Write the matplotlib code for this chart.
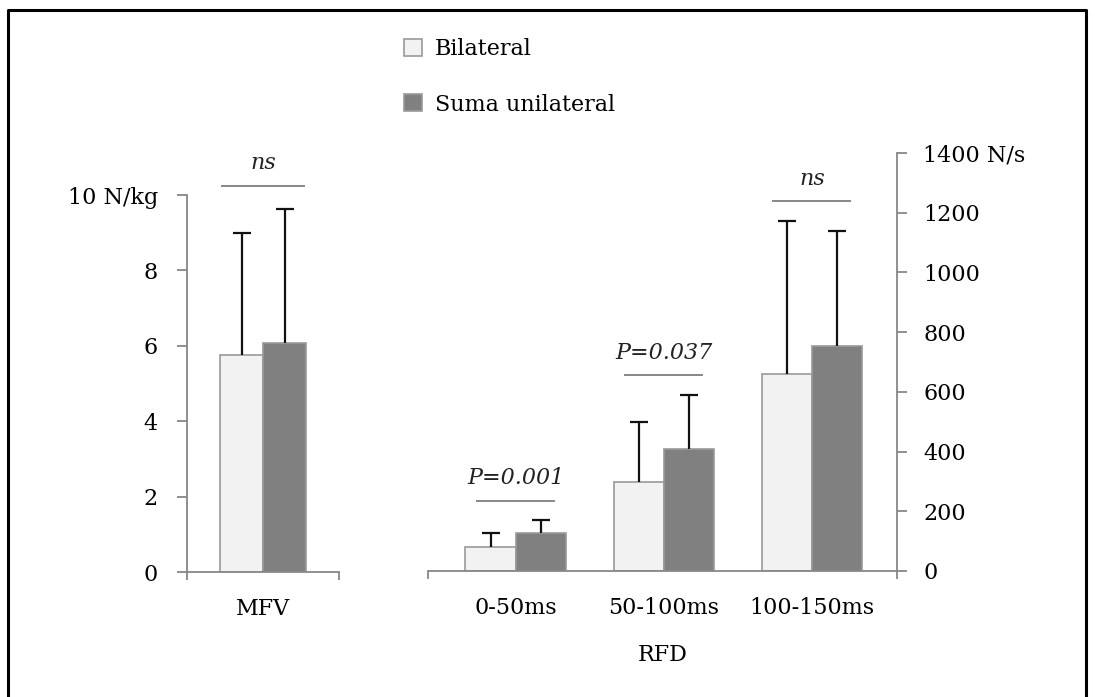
import numpy as np
import matplotlib
matplotlib.use("Agg")
import matplotlib.pyplot as plt
from matplotlib.lines import Line2D

plt.rcParams['font.family'] = ['DejaVu Serif']
plt.rcParams['font.size'] = 16

# data
series = ['Bilateral', 'Suma unilateral']
colors = ['#f2f2f2', '#808080']
edge = '#9a9a9a'
axis_col = '#878787'

mfv_cat = ['MFV']
mfv_mean = [[5.76], [6.07]]
mfv_sd = [[3.24], [3.56]]
mfv_sig = ['ns']

rfd_cat = ['0-50ms', '50-100ms', '100-150ms']
rfd_mean = [[80, 298, 660], [127, 409, 753]]
rfd_sd = [[47, 201, 513], [43, 180, 387]]
rfd_sig = ['P=0.001', 'P=0.037', 'ns']

left_ticks = [0, 2, 4, 6, 8, 10]
left_labels = ['0', '2', '4', '6', '8', '10 N/kg']
right_ticks = [0, 200, 400, 600, 800, 1000, 1200, 1400]
right_labels = ['0', '200', '400', '600', '800', '1000', '1200', '1400 N/s']

fig = plt.figure(figsize=(10.95, 6.97), dpi=100)
axL = fig.add_axes([0.1708, 0.1793, 0.1388, 0.5409])
axR = fig.add_axes([0.3913, 0.1808, 0.4279, 0.5997])


def draw_bars(ax, cats, means, sds, width):
    x = np.arange(len(cats))
    bars = []
    for i in range(2):
        xi = x + (i - 0.5) * width
        m = np.array(means[i])
        top = m + np.array(sds[i])
        b = ax.bar(xi, m, width, color=colors[i], edgecolor=edge,
                   linewidth=1.2, label=series[i], zorder=2)
        # only the upper half of the error bar, as in the original
        ax.vlines(xi, m, top, color='#111111', lw=1.6, zorder=3)
        ax.plot(xi, top, ls='none', marker='_', ms=13, mew=1.6,
                color='#111111', zorder=3)
        bars.append(b)
    return bars


def sig_marks(ax, cats, means, sds, texts, gap, tgap, half):
    tops = np.max(np.array(means) + np.array(sds), axis=0)
    for i, t in enumerate(texts):
        y = tops[i] + gap
        ax.plot([i - half, i + half], [y, y], color=axis_col, lw=1.4,
                clip_on=False, zorder=3)
        ax.text(i, y + tgap, t, ha='center', va='center', style='italic',
                fontsize=16, color='#222222', clip_on=False)


def style_axis(ax, side):
    for s in ['top', 'left', 'right', 'bottom']:
        ax.spines[s].set_visible(False)
    ax.spines[side].set_visible(True)
    ax.spines['bottom'].set_visible(True)
    for s in [side, 'bottom']:
        ax.spines[s].set_color(axis_col)
        ax.spines[s].set_linewidth(1.3)
    ax.set_facecolor('none')


# left: MFV
bars = draw_bars(axL, mfv_cat, mfv_mean, mfv_sd, 0.283)
axL.set_xlim(-0.5, 0.5)
axL.set_ylim(0, 10)
style_axis(axL, 'left')
axL.set_yticks(left_ticks)
axL.set_yticklabels(left_labels)
axL.tick_params(axis='y', direction='out', length=7, width=1.3,
                color=axis_col, pad=14)
axL.set_xticks([-0.5, 0.5])
axL.set_xticklabels(['', ''])
axL.set_xticks([0], minor=True)
axL.set_xticklabels(mfv_cat, minor=True)
axL.tick_params(axis='x', which='major', direction='out', length=6,
                width=1.3, color=axis_col)
axL.tick_params(axis='x', which='minor', length=0, pad=19)
sig_marks(axL, mfv_cat, mfv_mean, mfv_sd, mfv_sig, 0.62, 0.6, 0.27)

# right: RFD
draw_bars(axR, rfd_cat, rfd_mean, rfd_sd, 0.34)
axR.set_xlim(-0.59, 2.575)
axR.set_ylim(0, 1400)
style_axis(axR, 'right')
axR.yaxis.tick_right()
axR.set_yticks(right_ticks)
axR.set_yticklabels(right_labels)
axR.tick_params(axis='y', direction='out', length=7, width=1.3,
                color=axis_col, pad=12)
axR.set_xticks([-0.59, 2.575])
axR.set_xticklabels(['', ''])
axR.set_xticks(np.arange(len(rfd_cat)), minor=True)
axR.set_xticklabels(rfd_cat, minor=True)
axR.tick_params(axis='x', which='major', direction='out', length=6,
                width=1.3, color=axis_col)
axR.tick_params(axis='x', which='minor', length=0, pad=19)
axR.set_xlabel('RFD', labelpad=18)
sig_marks(axR, rfd_cat, rfd_mean, rfd_sd, rfd_sig, 66, 75, 0.26)

# legend
fig.legend(handles=bars, labels=series, loc='upper left',
           bbox_to_anchor=(0.369, 0.945), frameon=False, fontsize=16,
           handlelength=0.8, handleheight=0.8, handletextpad=0.6,
           labelspacing=1.5, borderpad=0, borderaxespad=0)

# outer frame (left, top, right)
fig.add_artist(Line2D([0.0075, 0.0075, 0.9915, 0.9915],
                      [0.0, 0.9855, 0.9855, 0.0],
                      transform=fig.transFigure, color='black', lw=2.2))

fig.savefig('out.png', dpi=100)
